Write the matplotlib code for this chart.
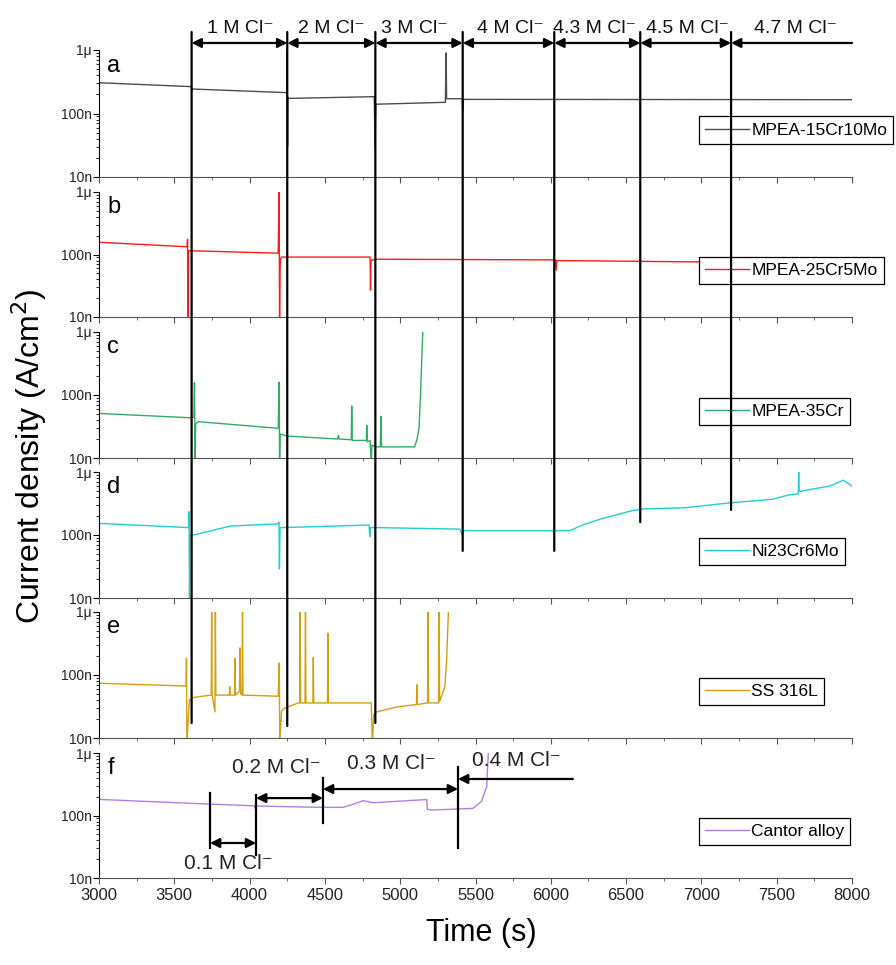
import matplotlib
matplotlib.use('Agg')
import matplotlib.pyplot as plt
from matplotlib import font_manager
from matplotlib.patches import ConnectionPatch
from matplotlib.ticker import MultipleLocator, LogLocator, FixedLocator, FuncFormatter, NullFormatter

# pick a narrow font for the x axis if there is one
installed = {f.name for f in font_manager.fontManager.ttflist}
narrow = 'Liberation Sans Narrow' if 'Liberation Sans Narrow' in installed else 'Liberation Sans'
plt.rcParams['font.family'] = ['Liberation Sans', 'DejaVu Sans']

# ---- data (time in s, current density in A/cm2) ----
t_a = [3000, 3612, 3616, 3620, 4246, 4249, 4252, 4255, 4260, 4828, 4833, 4838,
       5300, 5305, 5308, 5412, 5415, 5420, 8000]
v_a = [3.05e-7, 2.65e-7, 2.3e-7, 2.43e-7, 2.13e-7, 1.0e-6, 3.0e-8, 1.8e-7, 1.73e-7, 1.84e-7, 3.0e-8, 1.40e-7,
       1.50e-7, 9.0e-7, 1.71e-7, 1.71e-7, 1.1e-7, 1.67e-7, 1.65e-7]

t_b = [3000, 3585, 3588, 3591, 3594, 3600, 4190, 4196, 4199, 4202, 4206, 4212, 4230,
       4800, 4803, 4806, 4812, 4840, 6030, 6035, 6040, 7000, 8000]
v_b = [1.57e-7, 1.33e-7, 1.75e-7, 8e-9, 1.15e-7, 1.15e-7, 1.05e-7, 1.0e-6, 8e-9, 6.3e-8, 8.5e-8, 9.1e-8, 9.1e-8,
       9.1e-8, 2.7e-8, 7.9e-8, 8.2e-8, 8.4e-8, 8.2e-8, 5.6e-8, 8.0e-8, 7.6e-8, 6.6e-8]

t_c = [3000, 3600, 3630, 3634, 3638, 3642, 3660, 4190, 4196, 4199, 4203, 4250,
       4585, 4590, 4595, 4675, 4678, 4682, 4775, 4778, 4782, 4800, 4808, 4812,
       4840, 4868, 4872, 4876, 5095, 5110, 5125, 5135, 5145, 5150]
v_c = [5.1e-8, 4.36e-8, 4.4e-8, 1.57e-7, 8e-9, 3.5e-8, 3.77e-8, 2.96e-8, 1.6e-7, 8e-9, 2.4e-8, 2.23e-8,
       2.0e-8, 2.3e-8, 2.0e-8, 1.95e-8, 6.7e-8, 1.9e-8, 1.9e-8, 3.3e-8, 1.8e-8, 1.9e-8, 8e-9, 1.6e-8,
       1.5e-8, 1.5e-8, 4.6e-8, 1.5e-8, 1.5e-8, 1.9e-8, 3.0e-8, 1.0e-7, 5e-7, 1.0e-6]

t_d = [3000, 3595, 3598, 3601, 3604, 3627, 3876, 4190, 4195, 4198, 4202, 4222,
       4793, 4798, 4802, 4846, 5397, 5412, 5418, 5450, 6015, 6020, 6025, 6125,
       6211, 6332, 6539, 6609, 6885, 7197, 7473, 7575, 7643, 7646, 7649, 7854, 7941, 8000]
v_d = [1.53e-7, 1.31e-7, 2.34e-7, 8e-9, 1.0e-7, 1.0e-7, 1.39e-7, 1.5e-7, 1.6e-7, 2.9e-8, 1.31e-7, 1.31e-7,
       1.44e-7, 9.4e-8, 1.31e-7, 1.31e-7, 1.24e-7, 1.0e-7, 1.17e-7, 1.17e-7, 1.17e-7, 1.07e-7, 1.17e-7, 1.17e-7,
       1.44e-7, 1.8e-7, 2.43e-7, 2.59e-7, 2.7e-7, 3.25e-7, 3.69e-7, 4.3e-7, 4.5e-7, 1.0e-6, 4.9e-7, 6.0e-7, 7.4e-7, 6.0e-7]

t_e = [3000, 3560, 3578, 3581, 3584, 3600, 3626, 3745, 3748, 3751, 3770, 3773, 3776,
       3865, 3868, 3871, 3900, 3903, 3906, 3933, 3936, 3940, 3950, 3953, 3956,
       4190, 4197, 4200, 4212, 4235, 4323, 4333, 4336, 4339, 4368, 4371, 4374,
       4420, 4423, 4426, 4517, 4520, 4523, 4808, 4815, 4825, 4843, 4977,
       5108, 5111, 5114, 5182, 5185, 5188, 5255, 5258, 5262, 5297, 5309, 5320]
v_e = [7.4e-8, 6.7e-8, 6.7e-8, 1.84e-7, 8e-9, 4.0e-8, 4.4e-8, 4.8e-8, 1e-6, 4.8e-8, 2.6e-8, 1e-6, 4.8e-8,
       4.8e-8, 6.5e-8, 4.8e-8, 4.8e-8, 1.84e-7, 4.8e-8, 5.5e-8, 2.7e-7, 5e-8, 4.8e-8, 1e-6, 4.8e-8,
       4.6e-8, 1.55e-7, 8e-9, 2.7e-8, 3.0e-8, 3.6e-8, 3.6e-8, 1e-6, 3.6e-8, 3.6e-8, 1e-6, 3.6e-8,
       3.6e-8, 1.9e-7, 3.6e-8, 3.6e-8, 4.6e-7, 3.6e-8, 3.6e-8, 8e-9, 2.4e-8, 2.6e-8, 3.1e-8,
       3.4e-8, 7.0e-8, 3.4e-8, 3.6e-8, 1e-6, 3.6e-8, 3.6e-8, 1e-6, 3.8e-8, 6.5e-8, 1.9e-7, 1e-6]

t_f = [3000, 3737, 4030, 4036, 4042, 4467, 4620, 4700, 4753, 4820, 5176, 5180, 5200,
       5483, 5541, 5574, 5585]
v_f = [1.81e-7, 1.52e-7, 1.43e-7, 1.30e-7, 1.42e-7, 1.35e-7, 1.35e-7, 1.55e-7, 1.73e-7, 1.6e-7, 1.8e-7, 1.26e-7, 1.22e-7,
       1.3e-7, 1.7e-7, 2.9e-7, 1e-6]

names = ['MPEA-15Cr10Mo', 'MPEA-25Cr5Mo', 'MPEA-35Cr', 'Ni23Cr6Mo', 'SS 316L', 'Cantor alloy']
letters = ['a', 'b', 'c', 'd', 'e', 'f']
colors = ['#4d4d4d', '#ff1a1a', '#2fae63', '#1fcfcf', '#d4a010', '#b27fe6']
series = [(t_a, v_a), (t_b, v_b), (t_c, v_c), (t_d, v_d), (t_e, v_e), (t_f, v_f)]

# chloride steps (top) and where each marker line stops (panel index, value)
step_times = [3615, 4250, 4835, 5415, 6023, 6594, 7197]
step_ends = [(4, 1.73e-8), (4, 1.55e-8), (4, 1.73e-8), (3, 5.6e-8), (3, 5.6e-8), (3, 1.6e-7), (3, 2.5e-7)]
step_labels = ['1 M Cl⁻', '2 M Cl⁻', '3 M Cl⁻', '4 M Cl⁻', '4.3 M Cl⁻', '4.5 M Cl⁻', '4.7 M Cl⁻']
step_label_x = [3940, 4545, 5092, 5734, 6293, 6908, 7626]

# chloride steps of the Cantor alloy (panel f)
f_times = [3737, 4043, 4487, 5384]
f_spans = [(3.0e-8, 2.29e-7), (2.33e-8, 2.13e-7), (7.6e-8, 3.98e-7), (3.0e-8, 5.97e-7)]
f_labels = ['0.1 M Cl⁻', '0.2 M Cl⁻', '0.3 M Cl⁻', '0.4 M Cl⁻']
f_arrow_y = [3.63e-8, 1.9e-7, 2.65e-7, 3.84e-7]
f_label_pos = [(3862, 1.72e-8), (4180, 5.97e-7), (4943, 6.8e-7), (5773, 7.7e-7)]

fig = plt.figure(figsize=(8.96, 9.65), dpi=100)
H = 965.0
tops = [50, 192, 332, 472, 612, 753]
bots = [177, 317, 458, 598, 738, 878]
axes = []
for i in range(6):
    ax = fig.add_axes([99 / 896, 1 - bots[i] / H, 753 / 896, (bots[i] - tops[i]) / H])
    t, v = series[i]
    ax.plot(t, v, color=colors[i], lw=1.0, label=names[i])
    ax.set_yscale('log')
    ax.set_ylim(1e-8, 1e-6)
    ax.set_xlim(3000, 8000)
    ax.spines['top'].set_visible(False)
    ax.spines['right'].set_visible(False)
    ax.spines['bottom'].set_color('#555555')
    ax.yaxis.set_major_locator(FixedLocator([1e-8, 1e-7, 1e-6]))
    ax.yaxis.set_major_formatter(FuncFormatter(
        lambda y, p: {1e-8: '10n', 1e-7: '100n', 1e-6: '1μ'}.get(float('%.0e' % y), '')))
    ax.yaxis.set_minor_locator(LogLocator(base=10, subs=range(2, 10)))
    ax.yaxis.set_minor_formatter(NullFormatter())
    ax.xaxis.set_major_locator(MultipleLocator(500))
    ax.xaxis.set_minor_locator(MultipleLocator(250))
    ax.tick_params(axis='y', which='major', labelsize=10, length=4, labelcolor='#222222', pad=1)
    ax.tick_params(axis='y', which='minor', length=2)
    ax.tick_params(axis='x', which='major', length=4, color='#555555')
    ax.tick_params(axis='x', which='minor', length=2, color='#555555')
    if i < 5:
        ax.tick_params(axis='x', labelbottom=False)
    else:
        for lab in ax.get_xticklabels():
            lab.set_fontfamily(narrow)
            lab.set_fontsize(12)
            lab.set_color('#222222')
    ax.text(0.011, 0.83, letters[i], transform=ax.transAxes, fontsize=17, va='baseline')
    leg = ax.legend(loc='center left', bbox_to_anchor=(0.797, 0.37), frameon=True, fancybox=False,
                    fontsize=12.5, borderpad=0.35, borderaxespad=0, handlelength=2.5,
                    handletextpad=0.15, framealpha=1)
    leg.get_frame().set_edgecolor('black')
    leg.get_frame().set_linewidth(0.9)
    axes.append(ax)

# marker lines for the chloride steps
top_val = 1.92e-6
for t, (k, vend) in zip(step_times, step_ends):
    con = ConnectionPatch(xyA=(t, top_val), coordsA=axes[0].transData,
                          xyB=(t, vend), coordsB=axes[k].transData, color='black', lw=1.6)
    fig.add_artist(con)

arrow_y = 1.29e-6
for j in range(len(step_times)):
    x0 = step_times[j]
    if j < len(step_times) - 1:
        axes[0].annotate('', xy=(step_times[j + 1], arrow_y), xytext=(x0, arrow_y),
                         arrowprops=dict(arrowstyle='<|-|>', color='black', lw=1.6,
                                         shrinkA=0, shrinkB=0, mutation_scale=14),
                         annotation_clip=False)
    else:
        axes[0].annotate('', xy=(8000, arrow_y), xytext=(x0, arrow_y),
                         arrowprops=dict(arrowstyle='<|-', color='black', lw=1.6,
                                         shrinkA=0, shrinkB=0, mutation_scale=14),
                         annotation_clip=False)
    axes[0].text(step_label_x[j], 1.85e-6, step_labels[j], fontsize=14, ha='center',
                 va='baseline', clip_on=False, color='#111111')

# Cantor alloy steps
axf = axes[5]
for t, (lo, hi) in zip(f_times, f_spans):
    axf.plot([t, t], [lo, hi], color='black', lw=1.6)
for j in range(len(f_times)):
    if j < len(f_times) - 1:
        axf.annotate('', xy=(f_times[j + 1], f_arrow_y[j]), xytext=(f_times[j], f_arrow_y[j]),
                     arrowprops=dict(arrowstyle='<|-|>', color='black', lw=1.6,
                                     shrinkA=0, shrinkB=0, mutation_scale=14))
    else:
        axf.annotate('', xy=(6147, f_arrow_y[j]), xytext=(f_times[j], f_arrow_y[j]),
                     arrowprops=dict(arrowstyle='<|-', color='black', lw=1.6,
                                     shrinkA=0, shrinkB=0, mutation_scale=14))
    axf.text(f_label_pos[j][0], f_label_pos[j][1], f_labels[j], fontsize=15, ha='center',
             va='center', color='#222222')

fig.text(0.033, 0.527, 'Current density (A/cm$^2$)', rotation=90, fontsize=23,
         ha='center', va='center')
fig.text(0.537, 0.018, 'Time (s)', fontsize=22, fontfamily=narrow, ha='center', va='bottom')

fig.savefig('out.png', dpi=100)
